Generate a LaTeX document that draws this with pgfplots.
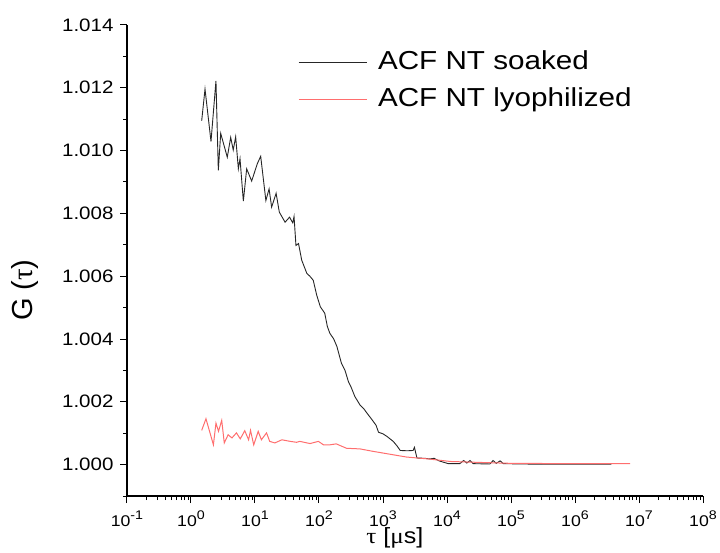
\documentclass[border=0pt]{standalone}
\usepackage{pgfplots}
\pgfplotsset{compat=1.18}
\usepackage{fontspec}
\setmainfont[FakeStretch=1.14]{Liberation Sans}
\newfontfamily\plainsans{Liberation Sans}
\newfontfamily\serifst[FakeStretch=1.14]{Liberation Serif}
\newfontfamily\serifplain{Liberation Serif}
\definecolor{soaked}{rgb}{0.15,0.15,0.15}
\definecolor{lyo}{RGB}{255,110,110}
\newcommand{\ex}[1]{10\raisebox{7.5pt}{\fontsize{12.5}{12.5}\selectfont#1}}
\begin{document}
\begin{tikzpicture}
\path[use as bounding box] (-127pt,-56pt) rectangle (593pt,496pt);
\begin{axis}[
  at={(0pt,0pt)}, anchor=south west,
  scale only axis, width=576pt, height=471pt,
  xmode=log, xmin=0.1, xmax=1e8, ymin=0.999, ymax=1.014,
  axis x line*=bottom, axis y line*=left,
  axis line style={line width=1.2pt, black},
  tick align=outside,
  major tick length=7pt, minor tick length=4pt,
  every tick/.style={black, line width=1pt},
  xtick={0.1,1,10,100,1000,10000,100000,1000000,10000000,100000000},
  xticklabels={\ex{-1},\ex{0},\ex{1},\ex{2},\ex{3},\ex{4},\ex{5},\ex{6},\ex{7},\ex{8}},
  minor xtick={0.2,0.3,0.4,0.5,0.6,0.7,0.8,0.9,
    2,3,4,5,6,7,8,9,
    20,30,40,50,60,70,80,90,
    200,300,400,500,600,700,800,900,
    2000,3000,4000,5000,6000,7000,8000,9000,
    20000,30000,40000,50000,60000,70000,80000,90000,
    200000,300000,400000,500000,600000,700000,800000,900000,
    2000000,3000000,4000000,5000000,6000000,7000000,8000000,9000000,
    20000000,30000000,40000000,50000000,60000000,70000000,80000000,90000000},
  ytick={1.000,1.002,1.004,1.006,1.008,1.010,1.012,1.014},
  yticklabels={1.000,1.002,1.004,1.006,1.008,1.010,1.012,1.014},
  minor ytick={0.999,1.001,1.003,1.005,1.007,1.009,1.011,1.013},
  xticklabel style={font=\fontsize{15.5}{15.5}\selectfont, yshift=-4pt},
  yticklabel style={font=\fontsize{18}{18}\selectfont, xshift=-3pt},
  xlabel={{\serifst τ} [{\serifst μ}s]},
  xlabel style={font=\fontsize{22}{22}\selectfont, at={(axis description cs:0.465,-0.0998)}, anchor=base},
  ylabel={G ({\serifplain τ})},
  ylabel style={font=\plainsans\fontsize{29}{29}\selectfont, at={(axis description cs:-0.177,0.437)}, anchor=center, rotate=0},
  legend style={draw=none, fill=none, inner sep=0pt, outer sep=0pt,
    at={(axis description cs:0.2969,0.949)}, anchor=north west,
    font=\fontsize{26}{26}\selectfont,
    nodes={inner sep=0pt, text height=20pt, text depth=6pt},
    column sep=11pt, row sep=11pt},
  legend cell align=left,
  legend image code/.code={\draw[#1] (0pt,0pt) -- (68pt,0pt);},
]
\addplot[soaked, line width=0.9pt] coordinates {
(1.469,1.01095) (1.656,1.01196) (2.053,1.01029) (2.455,1.01222) (2.673,1.00937)
(2.911,1.01055) (3.690,1.00979) (4.169,1.01042) (4.571,1.01002) (4.989,1.01044)
(5.495,1.00942) (5.834,1.00974) (6.577,1.00839) (7.413,1.00942) (8.872,1.00903)
(10.86,1.00958) (12.27,1.00982) (14.79,1.00841) (16.60,1.00878) (18.20,1.0082)
(21.38,1.00864) (23.99,1.00804) (29.51,1.00772) (34.67,1.00788) (38.90,1.0077)
(40.74,1.0079) (43.65,1.00698) (47.86,1.00704) (53.70,1.00651) (64.57,1.00609)
(72.0,1.00600) (81.28,1.00587) (92.0,1.00540) (104.7,1.00503) (123.0,1.00482)
(135.0,1.00440) (147.9,1.00418) (170.0,1.00400) (190.5,1.00376) (223.9,1.00323)
(255.0,1.00300) (288.4,1.00264) (320.0,1.00245) (363.1,1.00217) (436.5,1.0019)
(500.0,1.00178) (562.3,1.00164) (707.9,1.00137) (780.0,1.00125) (851.1,1.00103)
(1000,1.00098) (1148,1.0009) (1445,1.00074) (1650,1.00060) (1862,1.00045)
(2400,1.00044) (2951,1.00045) (3100,1.00055) (3388,1.00021) (4500,1.00020)
(5370,1.00018) (6300,1.00020) (7500,1.00012) (10470,1.00003) (15850,1.00003)
(18200,1.00013) (20420,1.00005) (22910,1.00013) (25700,1.00003) (46770,1.00002)
(52480,1.00013) (58880,1.00004) (67610,1.00012) (75860,1.00003) (316200,1.00001)
(1000000,1.00001) (3715000,1.00001)
};
\addlegendentry{ACF NT soaked}
\addplot[lyo, line width=1pt] coordinates {
(1.469,1.00109) (1.714,1.00146) (2.239,1.00063) (2.455,1.00132) (2.692,1.00106)
(3.020,1.00141) (3.311,1.00069) (3.802,1.00095) (4.365,1.00085) (5.129,1.00101)
(5.888,1.00082) (6.918,1.00108) (7.943,1.00079) (8.511,1.00109) (9.550,1.00063)
(11.22,1.00106) (12.59,1.00079) (15.14,1.00101) (16.98,1.00074) (20.42,1.00069)
(26.30,1.00079) (35.48,1.00074) (44.67,1.00071) (50.12,1.00074) (72.44,1.00067)
(97.72,1.00074) (117.5,1.00063) (147.9,1.00063) (186.2,1.00066) (269.2,1.00052)
(436.5,1.0005) (707.9,1.00042) (1288,1.00033) (2344,1.00024) (5129,1.00018)
(11220,1.0001) (31620,1.00007) (100000,1.00004) (1000000,1.00003) (7244000,1.00003)
};
\addlegendentry{ACF NT lyophilized}
\end{axis}
\end{tikzpicture}
\end{document}
